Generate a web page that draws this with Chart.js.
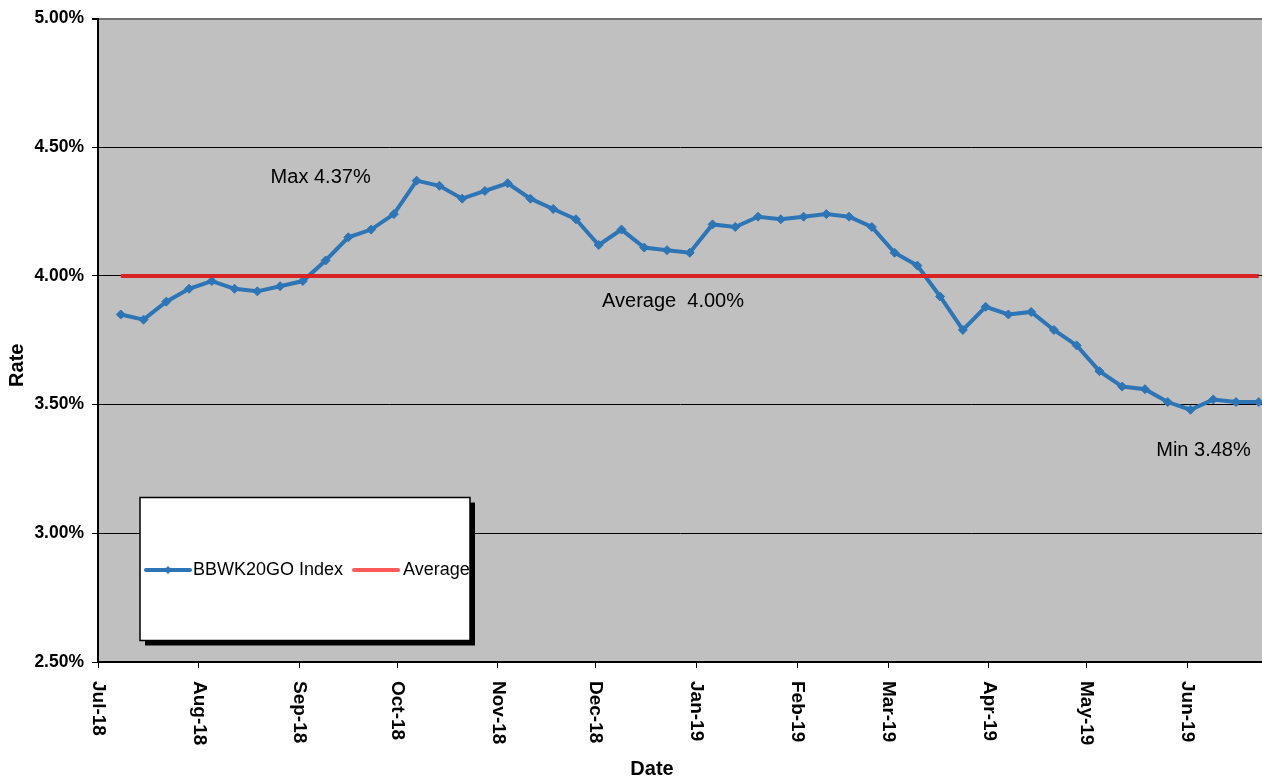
<!DOCTYPE html>
<html>
<head>
<meta charset="utf-8">
<script src="https://cdn.jsdelivr.net/npm/chart.js@4.4.1/dist/chart.umd.min.js"></script>
<style>
  html, body { margin: 0; padding: 0; background: #fff; }
  canvas { display: block; }
</style>
</head>
<body>
<canvas id="rateChart" width="1262" height="782"></canvas>
<script>
// Weekly fixings
const pointDates = [
    '2018-07-08', '2018-07-15', '2018-07-22', '2018-07-29',
    '2018-08-05', '2018-08-12', '2018-08-19', '2018-08-26',
    '2018-09-02', '2018-09-09', '2018-09-16', '2018-09-23', '2018-09-30',
    '2018-10-07', '2018-10-14', '2018-10-21', '2018-10-28',
    '2018-11-04', '2018-11-11', '2018-11-18', '2018-11-25',
    '2018-12-02', '2018-12-09', '2018-12-16', '2018-12-23', '2018-12-30',
    '2019-01-06', '2019-01-13', '2019-01-20', '2019-01-27',
    '2019-02-03', '2019-02-10', '2019-02-17', '2019-02-24',
    '2019-03-03', '2019-03-10', '2019-03-17', '2019-03-24', '2019-03-31',
    '2019-04-07', '2019-04-14', '2019-04-21', '2019-04-28',
    '2019-05-05', '2019-05-12', '2019-05-19', '2019-05-26',
    '2019-06-02', '2019-06-09', '2019-06-16', '2019-06-23'
];
const rateValues = [
    3.85, 3.83, 3.90, 3.95,
    3.98, 3.95, 3.94, 3.96,
    3.98, 4.06, 4.15, 4.18, 4.24,
    4.37, 4.35, 4.30, 4.33,
    4.36, 4.30, 4.26, 4.22,
    4.12, 4.18, 4.11, 4.10, 4.09,
    4.20, 4.19, 4.23, 4.22,
    4.23, 4.24, 4.23, 4.19,
    4.09, 4.04, 3.92, 3.79, 3.88,
    3.85, 3.86, 3.79, 3.73,
    3.63, 3.57, 3.56, 3.51,
    3.48, 3.52, 3.51, 3.51
];
const averageRate = 4.00;

// Axis ticks
const monthStarts = [
    '2018-07-01', '2018-08-01', '2018-09-01', '2018-10-01', '2018-11-01', '2018-12-01',
    '2019-01-01', '2019-02-01', '2019-03-01', '2019-04-01', '2019-05-01', '2019-06-01'
];
const monthLabels = [
    'Jul-18', 'Aug-18', 'Sep-18', 'Oct-18', 'Nov-18', 'Dec-18',
    'Jan-19', 'Feb-19', 'Mar-19', 'Apr-19', 'May-19', 'Jun-19'
];
const axisEnd = '2019-06-24';

const FONT = "'Liberation Sans', Arial, sans-serif";

// days since the first month on the axis
function dayOf(s) {
    const [y, m, d] = s.split('-').map(Number);
    const [y0, m0, d0] = monthStarts[0].split('-').map(Number);
    return (Date.UTC(y, m - 1, d) - Date.UTC(y0, m0 - 1, d0)) / 86400000;
}

const seriesPoints = pointDates.map((d, i) => ({ x: dayOf(d), y: rateValues[i] }));
const averagePoints = [
    { x: dayOf(pointDates[0]), y: averageRate },
    { x: dayOf(pointDates[pointDates.length - 1]), y: averageRate }
];

const BLUE = '#2E75B6';
const RED = '#DA2424';

// Background, rotated month labels, titles, notes and legend box
const decorPlugin = {
    id: 'decor',
    beforeDraw(chart) {
        const { ctx, chartArea: a } = chart;
        ctx.save();
        ctx.fillStyle = '#ffffff';
        ctx.fillRect(0, 0, chart.width, chart.height);
        ctx.fillStyle = '#C0C0C0';
        ctx.fillRect(a.left, a.top, a.right - a.left, a.bottom - a.top);
        ctx.restore();
    },
    afterDraw(chart) {
        const { ctx, chartArea: a } = chart;
        const xs = chart.scales.x, ys = chart.scales.y;
        ctx.save();
        ctx.fillStyle = '#000';

        // month labels, rotated clockwise
        ctx.font = 'bold 19px ' + FONT;
        ctx.textAlign = 'left';
        ctx.textBaseline = 'middle';
        monthStarts.forEach((m, i) => {
            ctx.save();
            ctx.translate(xs.getPixelForValue(dayOf(m)), a.bottom + 19);
            ctx.rotate(Math.PI / 2);
            ctx.fillText(monthLabels[i], 0, 0);
            ctx.restore();
        });

        // axis titles
        ctx.font = 'bold 20px ' + FONT;
        ctx.textAlign = 'center';
        ctx.fillText('Date', (a.left + a.right) / 2 - 28, chart.height - 13);
        ctx.save();
        ctx.translate(17, (a.top + a.bottom) / 2 + 25);
        ctx.rotate(-Math.PI / 2);
        ctx.fillText('Rate', 0, 0);
        ctx.restore();

        // notes
        const maxV = Math.max(...rateValues), minV = Math.min(...rateValues);
        const iMax = rateValues.indexOf(maxV), iMin = rateValues.indexOf(minV);
        ctx.font = '20px ' + FONT;
        ctx.fillText('Max ' + maxV.toFixed(2) + '%',
            xs.getPixelForValue(dayOf(pointDates[iMax])) - 96, ys.getPixelForValue(maxV) - 3);
        ctx.fillText('Min ' + minV.toFixed(2) + '%',
            xs.getPixelForValue(dayOf(pointDates[iMin])) + 13, ys.getPixelForValue(minV) + 41);
        ctx.fillText('Average  ' + averageRate.toFixed(2) + '%',
            (a.left + a.right) / 2 - 7, ys.getPixelForValue(averageRate) + 26);

        // legend box
        const bx = a.left + 42, by = a.top + 479, bw = 330, bh = 143;
        ctx.fillStyle = '#000';
        ctx.fillRect(bx + 5, by + 5, bw, bh);
        ctx.fillStyle = '#fff';
        ctx.fillRect(bx, by, bw, bh);
        ctx.strokeStyle = '#000';
        ctx.lineWidth = 1.5;
        ctx.strokeRect(bx, by, bw, bh);

        const ly = by + bh / 2 + 1;
        ctx.lineCap = 'round';
        ctx.lineWidth = 4;
        ctx.strokeStyle = BLUE;
        ctx.beginPath();
        ctx.moveTo(bx + 6, ly);
        ctx.lineTo(bx + 50, ly);
        ctx.stroke();
        ctx.fillStyle = BLUE;
        ctx.beginPath();
        ctx.moveTo(bx + 28, ly - 4);
        ctx.lineTo(bx + 32, ly);
        ctx.lineTo(bx + 28, ly + 4);
        ctx.lineTo(bx + 24, ly);
        ctx.closePath();
        ctx.fill();

        ctx.strokeStyle = '#FF5A5A';
        ctx.beginPath();
        ctx.moveTo(bx + 214, ly);
        ctx.lineTo(bx + 258, ly);
        ctx.stroke();

        ctx.fillStyle = '#000';
        ctx.font = '18px ' + FONT;
        ctx.textAlign = 'left';
        ctx.fillText('BBWK20GO Index', bx + 53, ly);
        ctx.fillText('Average', bx + 263, ly);
        ctx.restore();
    }
};

const ctx = document.getElementById('rateChart').getContext('2d');
new Chart(ctx, {
    type: 'line',
    data: {
        datasets: [{
            label: 'Average',
            data: averagePoints,
            borderColor: RED,
            borderWidth: 4,
            pointRadius: 0,
            order: 0
        }, {
            label: 'BBWK20GO Index',
            data: seriesPoints,
            borderColor: BLUE,
            backgroundColor: BLUE,
            borderWidth: 4,
            pointStyle: 'rectRot',
            pointRadius: 4.5,
            pointBorderWidth: 1,
            tension: 0,
            order: 1
        }]
    },
    options: {
        responsive: false,
        animation: false,
        devicePixelRatio: 1,
        layout: { autoPadding: false, padding: { top: 16, right: 0, left: 0, bottom: 0 } },
        plugins: {
            legend: { display: false },
            tooltip: { enabled: false }
        },
        scales: {
            x: {
                type: 'linear',
                min: 0,
                max: dayOf(axisEnd),
                afterBuildTicks: s => { s.ticks = monthStarts.map(m => ({ value: dayOf(m) })); },
                afterFit: s => { s.height = 120; },
                ticks: { display: false },
                grid: {
                    drawOnChartArea: false,
                    drawTicks: true,
                    tickLength: 6,
                    tickColor: '#000'
                },
                border: { color: '#000', width: 2 }
            },
            y: {
                min: 2.5,
                max: 5.0,
                afterFit: s => { s.width = 98; },
                ticks: {
                    stepSize: 0.5,
                    padding: 8,
                    color: '#000',
                    font: { family: FONT, size: 17.5, weight: 'bold' },
                    callback: v => v.toFixed(2) + '%'
                },
                grid: {
                    color: c => (c.tick && c.tick.value === 5 ? '#707070' : '#000'),
                    lineWidth: c => (c.tick && c.tick.value === 5 ? 2 : 1),
                    tickLength: 6,
                    tickColor: '#000'
                },
                border: { color: '#000', width: 2 }
            }
        }
    },
    plugins: [decorPlugin]
});
</script>
</body>
</html>
